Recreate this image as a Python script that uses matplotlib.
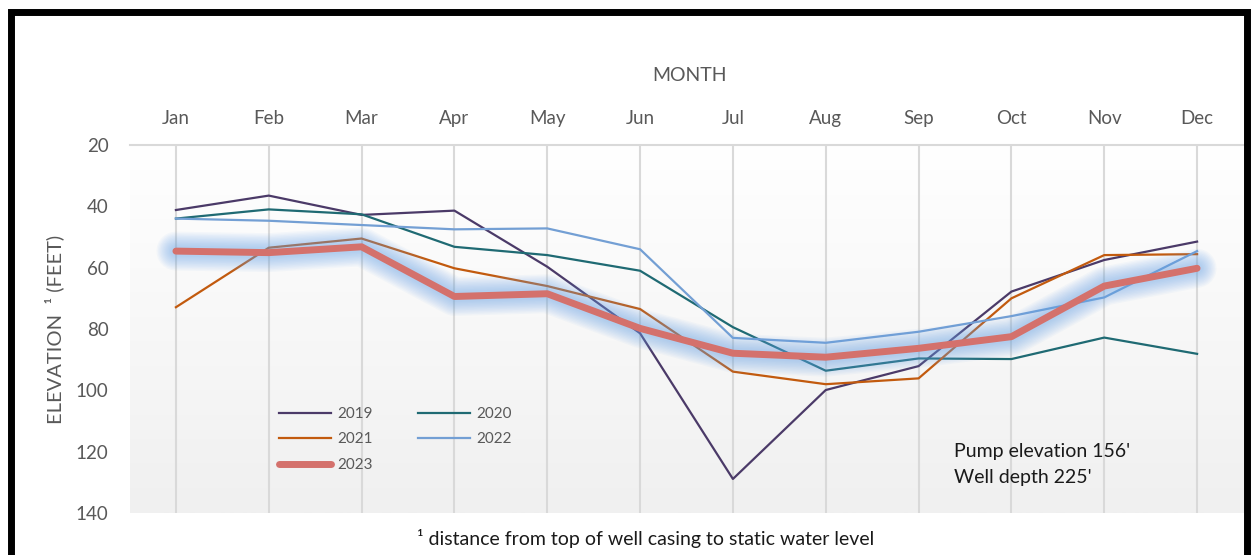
import numpy as np
import matplotlib.pyplot as plt
from matplotlib.colors import LinearSegmentedColormap
from matplotlib.patches import Rectangle

plt.rcParams['font.family'] = ['Lato', 'DejaVu Sans']

months = ['Jan', 'Feb', 'Mar', 'Apr', 'May', 'Jun',
          'Jul', 'Aug', 'Sep', 'Oct', 'Nov', 'Dec']
y2019 = [41.2, 36.5, 42.8, 41.4, 59.7, 81.4, 128.9, 99.9, 92.1, 67.8, 57.5, 51.5]
y2020 = [44.0, 41.0, 42.6, 53.2, 55.9, 61.0, 79.4, 93.6, 89.6, 89.8, 82.8, 88.1]
y2021 = [72.9, 53.5, 50.5, 60.2, 66.0, 73.5, 93.9, 98.0, 96.1, 70.0, 55.9, 55.6]
y2022 = [44.0, 44.7, 46.1, 47.5, 47.2, 54.0, 82.9, 84.5, 80.9, 75.8, 69.7, 54.6]
y2023 = [54.6, 55.1, 53.2, 69.4, 68.5, 79.8, 87.9, 89.2, 86.3, 82.5, 66.0, 60.2]
yticks = [20, 40, 60, 80, 100, 120, 140]

W, H = 1257, 555
fig = plt.figure(figsize=(W / 100, H / 100), dpi=100)
ax = fig.add_axes([129.5 / W, 1 - 513 / H, (1243.5 - 129.5) / W, (513 - 145) / H])

x = np.arange(len(months))
txt = '#595959'

# plot area gradient
grad = LinearSegmentedColormap.from_list('g', ['#ffffff', '#f0f0f0'])
ax.imshow(np.linspace(0, 1, 256).reshape(-1, 1), cmap=grad, aspect='auto',
          extent=[0, 1, 0, 1], transform=ax.transAxes, origin='upper', zorder=0)

l19, = ax.plot(x, y2019, color='#4b3a68', lw=1.6, label='2019', zorder=3)
l20, = ax.plot(x, y2020, color='#1f6a73', lw=1.6, label='2020', zorder=3)
l21, = ax.plot(x, y2021, color='#c25a0e', lw=1.6, label='2021', zorder=3)
l22, = ax.plot(x, y2022, color='#739fd4', lw=1.6, label='2022', zorder=3)

# soft blue glow under 2023
for lw in np.arange(28, 7, -2):
    ax.plot(x, y2023, color='#6aa5ec', lw=lw, alpha=0.055, zorder=4,
            solid_capstyle='round', solid_joinstyle='round')
l23, = ax.plot(x, y2023, color='#d4716c', lw=5, label='2023', zorder=5,
               solid_capstyle='round', solid_joinstyle='round')

ax.set_xlim(-0.5, 11.5)
ax.set_ylim(140, 20)
ax.set_xticks(x)
ax.set_xticklabels(months)
ax.set_yticks(yticks)
ax.xaxis.tick_top()
ax.tick_params(axis='x', length=0, pad=13, labelsize=13.5, labelcolor=txt)
ax.tick_params(axis='y', length=0, pad=15, labelsize=13.5, labelcolor=txt)
ax.xaxis.grid(True, color='#d9d9d9', lw=1.5, zorder=1)
for s in ['left', 'right', 'bottom']:
    ax.spines[s].set_visible(False)
ax.spines['top'].set_color('#d9d9d9')
ax.spines['top'].set_linewidth(1.5)

fig.text(690 / W, 1 - 76 / H, 'MONTH', ha='center', va='center', fontsize=14, color=txt)
fig.text(54 / W, 1 - 329 / H, 'ELEVATION  \u00b9 (FEET)', rotation=90,
         ha='center', va='center', fontsize=14.5, color=txt)

ax.legend(handles=[l19, l21, l23, l20, l22], ncol=2, loc='upper left',
          bbox_to_anchor=(279 / W, 1 - 407 / H), bbox_transform=fig.transFigure,
          frameon=False, fontsize=11, handlelength=3.4, handletextpad=0.4,
          columnspacing=3.0, labelspacing=0.75, borderpad=0, borderaxespad=0,
          labelcolor=txt)

fig.text(954 / W, 1 - 452 / H, "Pump elevation 156'", ha='left', va='center',
         fontsize=14, color='#1a1a1a')
fig.text(954 / W, 1 - 478 / H, "Well depth 225'", ha='left', va='center',
         fontsize=14, color='#1a1a1a')
fig.text(417 / W, 1 - 539 / H, '\u00b9 distance from top of well casing to static water level',
         ha='left', va='center', fontsize=14, color='#1a1a1a')

# black frame around the chart
fig.add_artist(Rectangle((10.5 / W, -0.1), (1247 - 10.5) / W, 1.1 - 11.5 / H,
                         transform=fig.transFigure, fill=False, ec='black', lw=5))

fig.savefig('out.png', dpi=100)
